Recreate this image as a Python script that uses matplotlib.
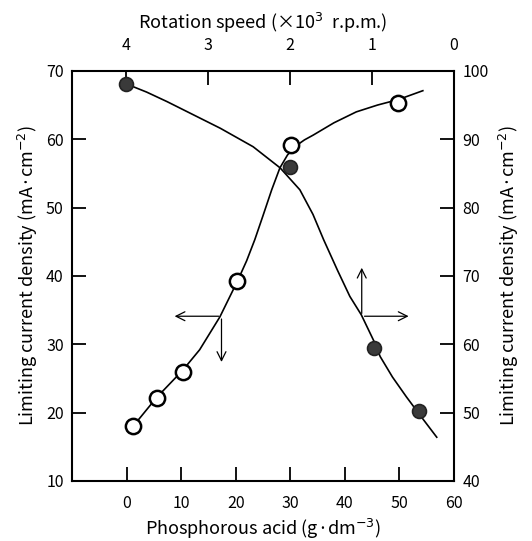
import numpy as np
import matplotlib
matplotlib.use("Agg")
import matplotlib.pyplot as plt

plt.rcParams['font.family'] = ['Noto Sans CJK JP', 'DejaVu Sans']
plt.rcParams['mathtext.fontset'] = 'dejavusans'

# Open circles: phosphorous acid (bottom axis) vs limiting current density (left axis)
acid_conc = [1.2, 5.5, 10.3, 20.3, 30.1, 49.8]
acid_density = [18.0, 22.2, 26.0, 39.2, 59.2, 65.3]
# hand-drawn fit curve
acid_curve_x = [1.2, 5.5, 10.3, 13.4, 17.1, 20.3, 22.0, 23.5, 25.0, 26.6, 28.1, 29.5,
                31.0, 32.6, 34.2, 38.0, 42.1, 46.0, 49.8, 54.3]
acid_curve_y = [18.0, 22.2, 26.2, 29.2, 34.0, 39.2, 42.2, 45.3, 48.8, 52.6, 55.8, 57.7,
                59.0, 59.9, 60.6, 62.4, 64.0, 65.0, 65.8, 67.1]

# Filled circles: rotation speed (top axis) vs limiting current density (right axis)
speed = [4.0, 2.0, 0.97, 0.43]
speed_density = [98.1, 86.0, 59.4, 50.3]
speed_curve_x = [4.0, 3.75, 3.5, 3.2, 2.85, 2.45, 2.12, 1.88, 1.72, 1.59, 1.42, 1.27,
                 1.13, 0.97, 0.90, 0.75, 0.58, 0.40, 0.21]
speed_curve_y = [98.1, 96.9, 95.5, 93.7, 91.6, 88.9, 85.8, 82.6, 79.0, 75.3, 70.8, 67.0,
                 64.3, 60.3, 58.2, 55.2, 52.3, 49.4, 46.4]

fig = plt.figure(figsize=(5.32, 5.41), dpi=100)
rect = [0.1353, 0.111, 0.7180, 0.758]
ax = fig.add_axes(rect)
ax2 = fig.add_axes(rect, frameon=False)

# bottom / left
ax.set_xlim(-10, 60)
ax.set_ylim(10, 70)
ax.set_xticks([0, 10, 20, 30, 40, 50, 60])
ax.set_yticks([10, 20, 30, 40, 50, 60, 70])
ax.tick_params(direction='in', length=10, width=1.3, labelsize=11.5, pad=6,
               top=False, right=False)
ax.tick_params(axis='x', pad=10)
for s in ax.spines.values():
    s.set_linewidth(1.5)
ax.set_xlabel('Phosphorous acid (g·dm$^{-3}$)', fontsize=13, labelpad=4)
ax.set_ylabel('Limiting current density (mA·cm$^{-2}$)', fontsize=13, labelpad=4)

# top / right
ax2.set_xlim(4.66, 0)
ax2.set_ylim(40, 100)
ax2.set_xticks([4, 3, 2, 1, 0])
ax2.set_yticks([40, 50, 60, 70, 80, 90, 100])
ax2.xaxis.tick_top()
ax2.xaxis.set_label_position('top')
ax2.yaxis.tick_right()
ax2.yaxis.set_label_position('right')
ax2.tick_params(direction='in', length=10, width=1.3, labelsize=11.5, pad=6)
ax2.tick_params(axis='x', pad=12)
ax2.set_xlabel('Rotation speed (×10$^3$  r.p.m.)', fontsize=13, labelpad=6)
ax2.set_ylabel('Limiting current density (mA·cm$^{-2}$)', fontsize=13, labelpad=6)

ax.plot(acid_curve_x, acid_curve_y, color='black', lw=1.2, zorder=2)
ax.plot(acid_conc, acid_density, 'o', ms=11, mfc='white', mec='black', mew=1.8, zorder=3)

ax2.plot(speed_curve_x, speed_curve_y, color='black', lw=1.2, zorder=2)
ax2.plot(speed, speed_density, 'o', ms=10, mfc='#3a3a3a', mec='#222222', mew=1.2, zorder=3)

# arrows pointing to the axes each curve belongs to
arr = dict(arrowstyle='->', lw=0.9, color='black', mutation_scale=16)
ax.annotate('', xy=(8.3, 34.1), xytext=(17.4, 34.1), arrowprops=arr)
ax.annotate('', xy=(17.4, 27.0), xytext=(17.4, 34.1), arrowprops=arr)
ax.annotate('', xy=(43.1, 41.6), xytext=(43.1, 34.1), arrowprops=arr)
ax.annotate('', xy=(52.2, 34.1), xytext=(43.1, 34.1), arrowprops=arr)

fig.savefig('out.png', dpi=100)
